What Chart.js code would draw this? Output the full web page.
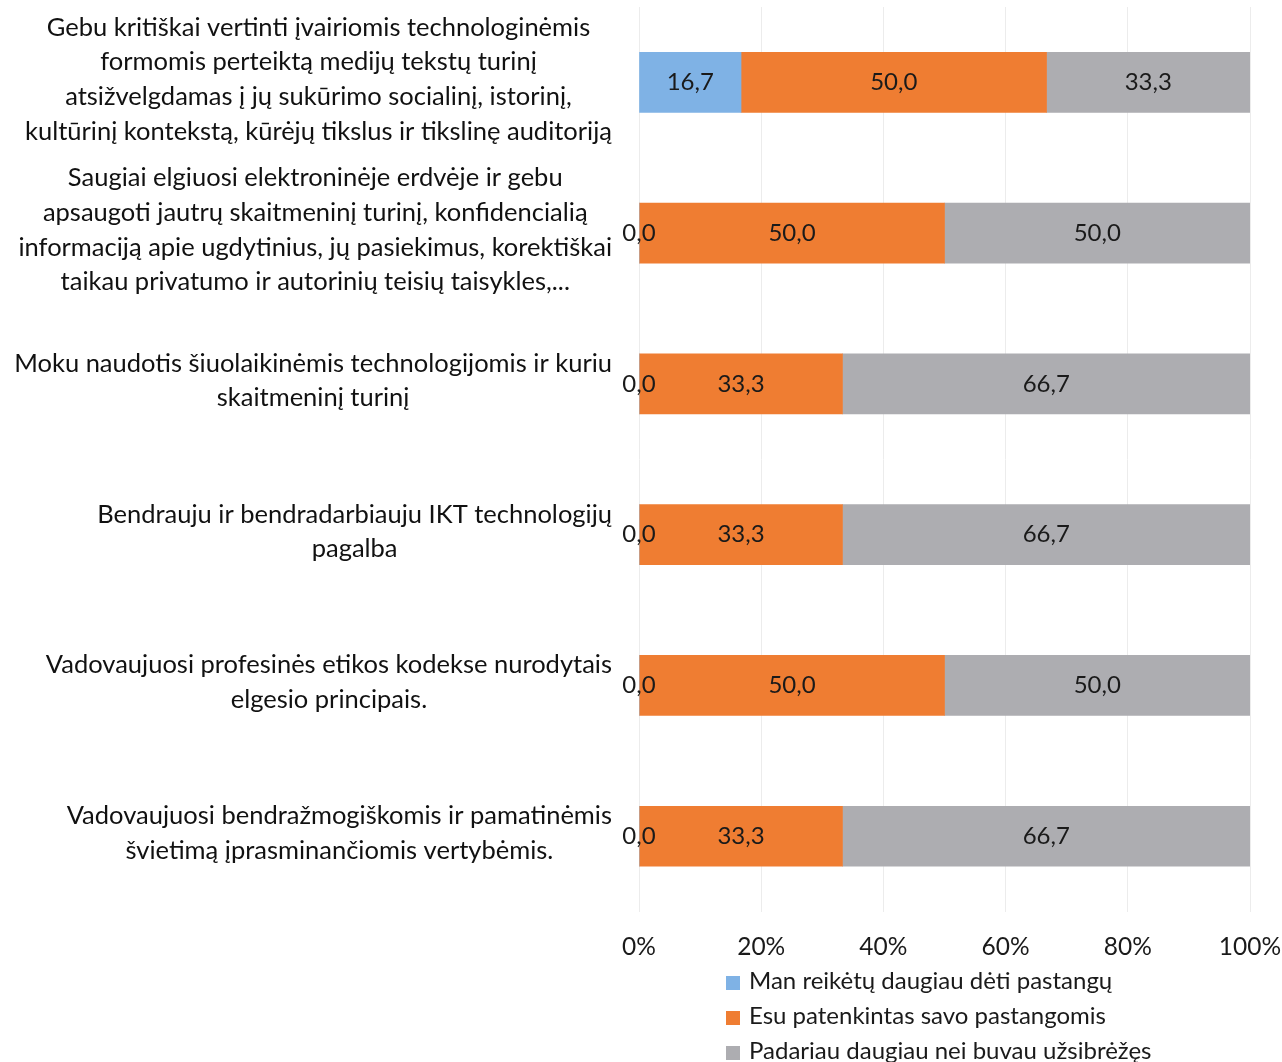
<!DOCTYPE html>
<html>
<head>
<meta charset="utf-8">
<script src="https://cdn.jsdelivr.net/npm/chart.js@4.4.1/dist/chart.umd.min.js"></script>
<style>
  body { margin: 0; background: #fff; }
  #wrap { position: relative; width: 1282px; height: 1062px; }
  #legend { position: absolute; left: 726px; top: 962px; font-family: Lato, sans-serif; font-size: 24px; color: #1a1a1a; }
  #legend div { height: 35px; line-height: 35px; white-space: nowrap; }
  #legend span { display: inline-block; width: 14px; height: 14px; margin-right: 9px; vertical-align: -1px; }
</style>
</head>
<body>
<div id="wrap">
  <canvas id="myChart" width="1282" height="1062"></canvas>
  <div id="legend"></div>
</div>
<script>
// rows top to bottom
const categories = [
  ["Gebu kritiškai vertinti įvairiomis technologinėmis", "formomis perteiktą medijų tekstų turinį", "atsižvelgdamas į jų sukūrimo socialinį, istorinį,", "kultūrinį kontekstą, kūrėjų tikslus ir tikslinę auditoriją"],
  ["Saugiai elgiuosi elektroninėje erdvėje ir gebu", "apsaugoti jautrų skaitmeninį turinį, konfidencialią", "informaciją apie ugdytinius, jų pasiekimus, korektiškai", "taikau privatumo ir autorinių teisių taisykles,..."],
  ["Moku naudotis šiuolaikinėmis technologijomis ir kuriu", "skaitmeninį turinį"],
  ["Bendrauju ir bendradarbiauju IKT technologijų", "pagalba"],
  ["Vadovaujuosi profesinės etikos kodekse nurodytais", "elgesio principais."],
  ["Vadovaujuosi bendražmogiškomis ir pamatinėmis", "švietimą įprasminančiomis vertybėmis."],
];

const seriesNames = [
  "Man reikėtų daugiau dėti pastangų",
  "Esu patenkintas savo pastangomis",
  "Padariau daugiau nei buvau užsibrėžęs",
];

const needMore = [16.7, 0.0, 0.0, 0.0, 0.0, 0.0];
const satisfied = [50.0, 50.0, 33.3, 33.3, 50.0, 33.3];
const didMore = [33.3, 50.0, 66.7, 66.7, 50.0, 66.7];

const xTicks = [0, 20, 40, 60, 80, 100];

const colors = ["#7fb2e5", "#ef7d32", "#adadb1"];
const FONT = "Lato, sans-serif";

// category labels: each line centred on its own widest line, block right aligned
const labelPlugin = {
  id: "catLabels",
  afterDraw(chart) {
    const ctx = chart.ctx;
    const y = chart.scales.y;
    const right = chart.chartArea.left - 27;
    const lh = 34.7;
    ctx.save();
    ctx.font = "25.5px " + FONT;
    ctx.fillStyle = "#111";
    ctx.textAlign = "center";
    ctx.textBaseline = "middle";
    categories.forEach((lines, i) => {
      const w = Math.max(...lines.map((l) => ctx.measureText(l).width));
      const cx = right - w / 2;
      const cy = y.getPixelForValue(i) - 3;
      const top = cy - ((lines.length - 1) * lh) / 2;
      lines.forEach((l, k) => ctx.fillText(l, cx, top + k * lh));
    });
    ctx.restore();
  },
};

// value labels in the bars, "0,0" at the bar base
const valuePlugin = {
  id: "values",
  afterDatasetsDraw(chart) {
    const ctx = chart.ctx;
    ctx.save();
    ctx.font = "24px " + FONT;
    ctx.fillStyle = "#1a1a1a";
    ctx.textAlign = "center";
    ctx.textBaseline = "middle";
    chart.data.datasets.forEach((ds, di) => {
      chart.getDatasetMeta(di).data.forEach((bar, i) => {
        const v = ds.data[i];
        const x = v === 0 ? bar.base : (bar.x + bar.base) / 2;
        ctx.fillText(v.toFixed(1).replace(".", ","), x, bar.y);
      });
    });
    ctx.restore();
  },
};

const ctx = document.getElementById("myChart");

const myChart = new Chart(ctx, {
  type: "bar",
  data: {
    labels: categories,
    datasets: [
      { label: seriesNames[0], data: needMore, backgroundColor: colors[0] },
      { label: seriesNames[1], data: satisfied, backgroundColor: colors[1] },
      { label: seriesNames[2], data: didMore, backgroundColor: colors[2] },
    ],
  },
  options: {
    indexAxis: "y",
    responsive: false,
    animation: false,
    layout: { padding: { left: 639, right: 32, top: 7, bottom: 79 } },
    datasets: { bar: { barThickness: 60 } },
    scales: {
      x: {
        stacked: true,
        min: 0,
        max: 100,
        afterBuildTicks: (scale) => {
          scale.ticks = xTicks.map((v) => ({ value: v }));
        },
        afterFit: (scale) => {
          scale.paddingLeft = 0;
          scale.paddingRight = 0;
        },
        grid: { color: "#ececec", drawTicks: false },
        border: { display: false },
        ticks: {
          padding: 21,
          color: "#1a1a1a",
          font: { family: FONT, size: 24.5 },
          callback: (v) => v + "%",
        },
      },
      y: {
        stacked: true,
        display: false,
      },
    },
    plugins: {
      legend: { display: false },
      tooltip: { enabled: false },
    },
  },
  plugins: [labelPlugin, valuePlugin],
});

document.querySelector("#legend").innerHTML = myChart.data.datasets
  .map((ds) => `<div><span style="background:${ds.backgroundColor}"></span>${ds.label}</div>`)
  .join("");
</script>
</body>
</html>
